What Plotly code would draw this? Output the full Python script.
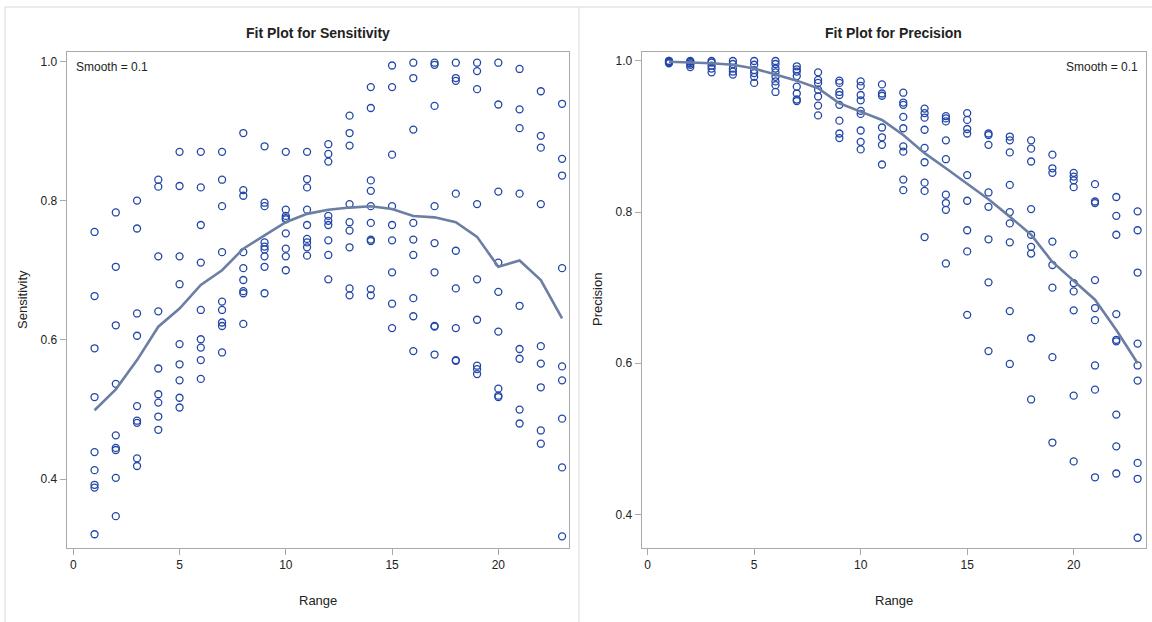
import plotly.graph_objects as go

W, H = 1152, 622

ranges = [1, 2, 3, 4, 5, 6, 7, 8, 9, 10, 11, 12, 13, 14, 15, 16, 17, 18, 19, 20, 21, 22, 23]

sensitivity = [
    [0.755, 0.663, 0.588, 0.518, 0.439, 0.413, 0.392, 0.388, 0.321],
    [0.783, 0.705, 0.621, 0.537, 0.463, 0.445, 0.442, 0.402, 0.347],
    [0.800, 0.760, 0.638, 0.606, 0.505, 0.484, 0.481, 0.430, 0.419],
    [0.830, 0.820, 0.720, 0.641, 0.559, 0.522, 0.510, 0.490, 0.471],
    [0.870, 0.821, 0.720, 0.680, 0.594, 0.565, 0.542, 0.517, 0.503],
    [0.870, 0.819, 0.765, 0.711, 0.643, 0.601, 0.589, 0.571, 0.544],
    [0.870, 0.830, 0.792, 0.726, 0.655, 0.643, 0.625, 0.620, 0.582],
    [0.897, 0.815, 0.807, 0.726, 0.703, 0.686, 0.670, 0.667, 0.623],
    [0.878, 0.797, 0.792, 0.740, 0.734, 0.730, 0.720, 0.705, 0.667],
    [0.870, 0.787, 0.778, 0.775, 0.773, 0.753, 0.731, 0.720, 0.700],
    [0.870, 0.831, 0.819, 0.787, 0.765, 0.745, 0.740, 0.733, 0.721],
    [0.881, 0.867, 0.856, 0.778, 0.771, 0.765, 0.743, 0.722, 0.687],
    [0.922, 0.897, 0.879, 0.795, 0.769, 0.757, 0.733, 0.674, 0.664],
    [0.963, 0.933, 0.829, 0.814, 0.792, 0.768, 0.744, 0.742, 0.673, 0.664],
    [0.994, 0.963, 0.866, 0.792, 0.765, 0.743, 0.697, 0.652, 0.617],
    [0.998, 0.976, 0.902, 0.768, 0.744, 0.722, 0.660, 0.634, 0.584],
    [0.998, 0.995, 0.936, 0.792, 0.739, 0.697, 0.620, 0.619, 0.579],
    [0.998, 0.976, 0.972, 0.810, 0.728, 0.674, 0.617, 0.571, 0.570],
    [0.998, 0.986, 0.960, 0.795, 0.687, 0.629, 0.563, 0.558, 0.551],
    [0.998, 0.938, 0.813, 0.711, 0.669, 0.612, 0.530, 0.520, 0.518],
    [0.989, 0.931, 0.904, 0.810, 0.649, 0.587, 0.573, 0.500, 0.480],
    [0.957, 0.893, 0.876, 0.795, 0.591, 0.566, 0.532, 0.470, 0.451],
    [0.939, 0.860, 0.836, 0.703, 0.562, 0.542, 0.487, 0.417, 0.318],
]

sensitivity_fit = [0.499, 0.529, 0.571, 0.619, 0.645, 0.679, 0.700, 0.731, 0.750,
                   0.769, 0.781, 0.787, 0.790, 0.792, 0.788, 0.778, 0.776, 0.769,
                   0.748, 0.705, 0.714, 0.686, 0.631]

precision = [
    [1.000, 1.000, 0.999, 0.998, 0.997],
    [1.000, 0.999, 0.997, 0.995, 0.992],
    [1.000, 0.998, 0.994, 0.990, 0.985],
    [1.000, 0.996, 0.990, 0.986, 0.982],
    [1.000, 0.995, 0.988, 0.984, 0.979, 0.971],
    [1.000, 0.996, 0.990, 0.985, 0.979, 0.973, 0.968, 0.959],
    [0.993, 0.989, 0.986, 0.980, 0.966, 0.957, 0.949, 0.947],
    [0.985, 0.975, 0.971, 0.962, 0.953, 0.941, 0.928],
    [0.974, 0.971, 0.959, 0.955, 0.942, 0.921, 0.904, 0.898],
    [0.973, 0.967, 0.955, 0.948, 0.934, 0.930, 0.908, 0.893, 0.883],
    [0.969, 0.957, 0.954, 0.912, 0.899, 0.889, 0.863],
    [0.958, 0.945, 0.942, 0.926, 0.911, 0.887, 0.880, 0.843, 0.829],
    [0.937, 0.931, 0.925, 0.909, 0.885, 0.866, 0.839, 0.828, 0.767],
    [0.927, 0.924, 0.920, 0.895, 0.870, 0.823, 0.812, 0.803, 0.732],
    [0.931, 0.922, 0.910, 0.904, 0.849, 0.815, 0.776, 0.748, 0.664],
    [0.904, 0.902, 0.889, 0.826, 0.807, 0.764, 0.707, 0.616],
    [0.900, 0.895, 0.879, 0.836, 0.800, 0.785, 0.760, 0.669, 0.599],
    [0.895, 0.884, 0.867, 0.804, 0.770, 0.754, 0.745, 0.633, 0.552],
    [0.876, 0.858, 0.852, 0.761, 0.730, 0.700, 0.608, 0.495],
    [0.852, 0.847, 0.842, 0.833, 0.744, 0.706, 0.695, 0.670, 0.557, 0.470],
    [0.837, 0.814, 0.812, 0.710, 0.673, 0.657, 0.597, 0.565, 0.449],
    [0.820, 0.795, 0.770, 0.665, 0.631, 0.629, 0.532, 0.490, 0.454],
    [0.801, 0.776, 0.720, 0.626, 0.597, 0.577, 0.468, 0.447, 0.369],
]

precision_fit = [0.999, 0.998, 0.997, 0.995, 0.990, 0.982, 0.974, 0.964, 0.944,
                 0.933, 0.922, 0.902, 0.878, 0.858, 0.837, 0.817, 0.794, 0.770,
                 0.734, 0.709, 0.684, 0.644, 0.600]

x_ticks = [0, 5, 10, 15, 20]
y_ticks = [0.4, 0.6, 0.8, 1.0]
y_tick_labels = ["0.4", "0.6", "0.8", "1.0"]

MARKER = "#2347a8"
FIT = "#6b7ea3"
FRAME = "#a9a9a9"
TXT = "#222222"
FONT = "Liberation Sans Narrow, Arial Narrow, Liberation Sans, Arial, sans-serif"


def flatten(groups):
    xs, ys = [], []
    for r, vals in zip(ranges, groups):
        for v in vals:
            xs.append(r)
            ys.append(v)
    return xs, ys


fig = go.Figure()

sx, sy = flatten(sensitivity)
px_, py_ = flatten(precision)

fig.add_trace(go.Scatter(x=sx, y=sy, mode="markers", xaxis="x", yaxis="y",
                         marker=dict(symbol="circle-open", size=7, color=MARKER,
                                     line=dict(width=1.3, color=MARKER)),
                         showlegend=False, hoverinfo="skip"))
fig.add_trace(go.Scatter(x=ranges, y=sensitivity_fit, mode="lines", xaxis="x", yaxis="y",
                         line=dict(color=FIT, width=2.6), showlegend=False, hoverinfo="skip"))
fig.add_trace(go.Scatter(x=px_, y=py_, mode="markers", xaxis="x2", yaxis="y2",
                         marker=dict(symbol="circle-open", size=7, color=MARKER,
                                     line=dict(width=1.3, color=MARKER)),
                         showlegend=False, hoverinfo="skip"))
fig.add_trace(go.Scatter(x=ranges, y=precision_fit, mode="lines", xaxis="x2", yaxis="y2",
                         line=dict(color=FIT, width=2.6), showlegend=False, hoverinfo="skip"))


def px2x(p):
    return p / W


def px2y(p):
    return (H - p) / H


L1, R1 = 66.7, 569.3
L2, R2 = 641.7, 1145.7
T, B = 51.7, 547.7

axis_common = dict(showgrid=False, zeroline=False, showline=True, linecolor=FRAME,
                   linewidth=1, mirror=True, ticks="outside", ticklen=6,
                   tickcolor=FRAME, tickfont=dict(family=FONT, size=12, color=TXT))

fig.update_layout(
    width=W, height=H, margin=dict(l=0, r=0, t=0, b=0),
    paper_bgcolor="white", plot_bgcolor="white",
    xaxis=dict(domain=[px2x(L1), px2x(R1)], range=[-0.31, 23.34], anchor="y",
               tickvals=x_ticks, **axis_common),
    yaxis=dict(domain=[px2y(B), px2y(T)], range=[0.3017, 1.0138], anchor="x",
               tickvals=y_ticks, ticktext=y_tick_labels, **axis_common),
    xaxis2=dict(domain=[px2x(L2), px2x(R2)], range=[-0.28, 23.38], anchor="y2",
                tickvals=x_ticks, **axis_common),
    yaxis2=dict(domain=[px2y(B), px2y(T)], range=[0.3558, 1.0123], anchor="x2",
                tickvals=y_ticks, ticktext=y_tick_labels, **axis_common),
)


def note(text, x, y, size, xanchor="center", angle=0):
    return dict(text=text, x=px2x(x), y=px2y(y), xref="paper", yref="paper",
                xanchor=xanchor, yanchor="middle", textangle=angle, showarrow=False,
                font=dict(family=FONT, size=size, color=TXT))


ann = [
    note("<b>Fit Plot for Sensitivity</b>", (L1 + R1) / 2, 33, 14),
    note("<b>Fit Plot for Precision</b>", (L2 + R2) / 2, 33, 14),
    note("Smooth = 0.1", 74, 67, 12, xanchor="left"),
    note("Smooth = 0.1", 1140, 67, 12, xanchor="right"),
    note("Sensitivity", 22, 300, 13, angle=-90),
    note("Precision", 597, 300, 13, angle=-90),
    note("Range", (L1 + R1) / 2, 600, 13),
    note("Range", (L2 + R2) / 2, 600, 13),
]
fig.update_layout(annotations=ann)

BORDER = "#d8d8d8"
fig.update_layout(shapes=[
    dict(type="line", xref="paper", yref="paper", x0=px2x(5), x1=1, y0=px2y(7), y1=px2y(7),
         line=dict(color=BORDER, width=1)),
    dict(type="line", xref="paper", yref="paper", x0=px2x(5), x1=px2x(5), y0=0, y1=px2y(7),
         line=dict(color=BORDER, width=1)),
    dict(type="line", xref="paper", yref="paper", x0=px2x(579), x1=px2x(579), y0=0, y1=px2y(7),
         line=dict(color=BORDER, width=1)),
])

fig.write_html("out.html")
